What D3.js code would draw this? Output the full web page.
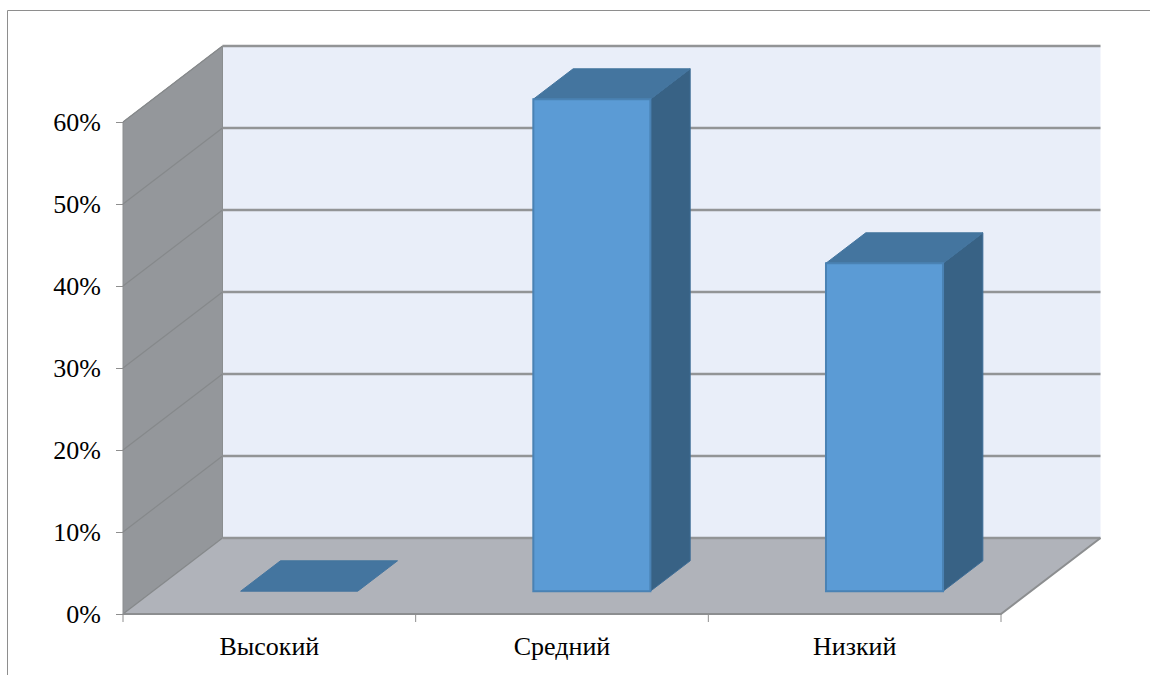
<!DOCTYPE html>
<html>
<head>
<meta charset="utf-8">
<script src="https://cdn.jsdelivr.net/npm/d3@7"></script>
<style>
  body { margin: 0; background: #fff; }
  text { font-family: "Liberation Serif", serif; fill: #000; }
</style>
</head>
<body>
<div id="chart"></div>
<script>
const categories = ["Высокий", "Средний", "Низкий"];
const values = [0, 60, 40];
const yTicks = [0, 10, 20, 30, 40, 50, 60];

const width = 1150, height = 675;
const plot = { left: 123, right: 1001, top: 122, bottom: 614 };
// wall offset of the 3D box, and how deep the bars sit inside it
const depthX = d3.scaleLinear().domain([0, 1]).range([0, 99.5]);
const depthY = d3.scaleLinear().domain([0, 1]).range([0, -76]);
const barFront = 0.3, barBack = 0.7;

const svg = d3.select("#chart").append("svg")
    .attr("width", width)
    .attr("height", height)
    .style("display", "block");

const xScaler = d3.scaleBand()
    .domain(categories)
    .range([plot.left, plot.right])
    .paddingInner(0.6)
    .paddingOuter(0.3);

const yScaler = d3.scaleLinear()
    .domain([0, 60])
    .range([plot.bottom, plot.top]);

// project a data position (pixel x, value, depth) to the screen
const pt = (x, v, z) => [x + depthX(z), yScaler(v) + depthY(z)];
const poly = pts => pts.map(p => p.join(",")).join(" ");

// outer frame, cut off by the picture on the right and bottom
svg.append("path")
    .attr("d", `M7.5,${height} V10.5 H${width}`)
    .attr("fill", "none")
    .attr("stroke", "#8e8e8e")
    .attr("stroke-width", 1);

const yMax = yScaler.domain()[1];

// back wall
svg.append("polygon")
    .attr("points", poly([
        pt(plot.left, 0, 1), pt(plot.right, 0, 1),
        pt(plot.right, yMax, 1), pt(plot.left, yMax, 1)]))
    .attr("fill", "#e9eef9");

// side wall
svg.append("polygon")
    .attr("points", poly([
        pt(plot.left, 0, 0), pt(plot.left, 0, 1),
        pt(plot.left, yMax, 1), pt(plot.left, yMax, 0)]))
    .attr("fill", "#94979b")
    .attr("stroke", "#8b8e90")
    .attr("stroke-width", 1);

// floor
svg.append("polygon")
    .attr("points", poly([
        pt(plot.left, 0, 0), pt(plot.right, 0, 0),
        pt(plot.right, 0, 1), pt(plot.left, 0, 1)]))
    .attr("fill", "#b0b3ba");

// gridlines along side wall and back wall
const grid = svg.append("g").selectAll("g")
    .data(yTicks)
    .enter()
    .append("g");

grid.append("polyline")
    .attr("points", d => poly([pt(plot.left, d, 0), pt(plot.left, d, 1)]))
    .attr("fill", "none")
    .attr("stroke", "#86898b")
    .attr("stroke-width", 1.2);

grid.append("line")
    .attr("x1", d => pt(plot.left, d, 1)[0])
    .attr("x2", d => pt(plot.right, d, 1)[0])
    .attr("y1", d => pt(plot.left, d, 1)[1])
    .attr("y2", d => pt(plot.left, d, 1)[1])
    .attr("stroke", "#929496")
    .attr("stroke-width", 2.4);

// floor front and right edges
svg.append("polyline")
    .attr("points", poly([pt(plot.left, 0, 0), pt(plot.right, 0, 0), pt(plot.right, 0, 1)]))
    .attr("fill", "none")
    .attr("stroke", "#8c8e90")
    .attr("stroke-width", 2);

// bars, drawn side and top first, then the front face
const bars = svg.append("g").selectAll("g")
    .data(categories.map((c, i) => ({ category: c, value: values[i] })))
    .enter()
    .append("g");

const barL = d => xScaler(d.category);
const barR = d => xScaler(d.category) + xScaler.bandwidth();

bars.filter(d => d.value > 0).append("polygon")
    .attr("points", d => poly([
        pt(barR(d), 0, barFront), pt(barR(d), 0, barBack),
        pt(barR(d), d.value, barBack), pt(barR(d), d.value, barFront)]))
    .attr("fill", "#386285")
    .attr("stroke", "#3e6d96")
    .attr("stroke-width", 1);

bars.append("polygon")
    .attr("points", d => poly([
        pt(barL(d), d.value, barFront), pt(barR(d), d.value, barFront),
        pt(barR(d), d.value, barBack), pt(barL(d), d.value, barBack)]))
    .attr("fill", "#44759f")
    .attr("stroke", "#44759f")
    .attr("stroke-width", 1);

bars.filter(d => d.value > 0).append("polygon")
    .attr("points", d => poly([
        pt(barL(d), 0, barFront), pt(barR(d), 0, barFront),
        pt(barR(d), d.value, barFront), pt(barL(d), d.value, barFront)]))
    .attr("fill", "#5b9bd5")
    .attr("stroke", "#4a82b4")
    .attr("stroke-width", 2);

// axes
const yAxisGen = d3.axisLeft(yScaler)
    .tickValues(yTicks)
    .tickSize(7)
    .tickPadding(15)
    .tickFormat(d => d + "%");

const yAxis = svg.append("g")
    .attr("transform", `translate(${plot.left},0)`)
    .call(yAxisGen);
yAxis.select(".domain").remove();
yAxis.selectAll("line").attr("stroke", "#8e8e8e");
yAxis.selectAll("text").attr("font-size", "26px");

const xAxisGen = d3.axisBottom(xScaler)
    .tickSize(0)
    .tickPadding(23);

const xAxis = svg.append("g")
    .attr("transform", `translate(0,${plot.bottom})`)
    .call(xAxisGen);
xAxis.select(".domain").remove();
xAxis.selectAll("text").attr("font-size", "26px");

// category separators sit on the band edges, not the band centres
const step = xScaler.step();
xAxis.selectAll(".sep")
    .data(d3.range(categories.length + 1))
    .enter()
    .append("line")
    .attr("x1", i => plot.left + i * step)
    .attr("x2", i => plot.left + i * step)
    .attr("y1", 0)
    .attr("y2", 8)
    .attr("stroke", "#8e8e8e");
</script>
</body>
</html>
